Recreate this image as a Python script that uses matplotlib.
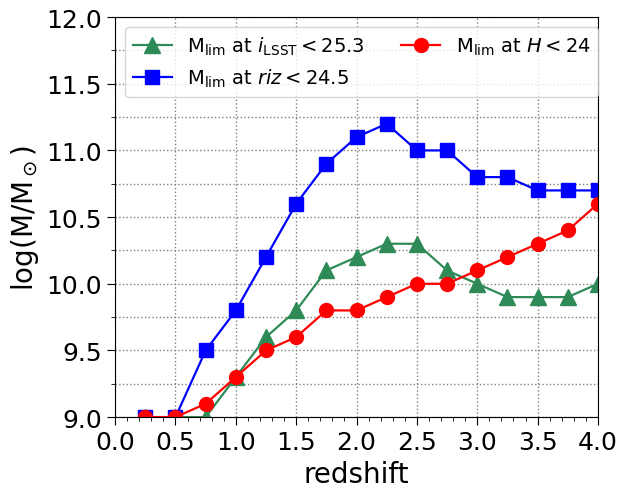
import matplotlib
matplotlib.use("Agg")
import matplotlib.pyplot as plt
from matplotlib.ticker import MultipleLocator

redshift = [0.25, 0.5, 0.75, 1.0, 1.25, 1.5, 1.75, 2.0, 2.25, 2.5, 2.75, 3.0, 3.25, 3.5, 3.75, 4.0]
mlim_ilsst = [9.0, 9.0, 9.0, 9.3, 9.6, 9.8, 10.1, 10.2, 10.3, 10.3, 10.1, 10.0, 9.9, 9.9, 9.9, 10.0]
mlim_riz = [9.0, 9.0, 9.5, 9.8, 10.2, 10.6, 10.9, 11.1, 11.2, 11.0, 11.0, 10.8, 10.8, 10.7, 10.7, 10.7]
mlim_h = [9.0, 9.0, 9.1, 9.3, 9.5, 9.6, 9.8, 9.8, 9.9, 10.0, 10.0, 10.1, 10.2, 10.3, 10.4, 10.6]

fig = plt.figure(figsize=(6.19, 4.89), dpi=100)
ax = fig.add_axes([0.186, 0.145, 0.780, 0.818])

ax.plot(redshift, mlim_ilsst, marker="^", color="seagreen", ms=11, lw=1.6,
        label=r"M$_{\rm lim}$ at $i_{\rm LSST}<25.3$")
ax.plot(redshift, mlim_riz, marker="s", color="blue", ms=10, lw=1.6,
        label=r"M$_{\rm lim}$ at $riz<24.5$")
ax.plot(redshift, mlim_h, marker="o", color="red", ms=10, lw=1.6,
        label=r"M$_{\rm lim}$ at $H<24$")

ax.set_xlim(0, 4.0)
ax.set_ylim(9.0, 12.0)
ax.xaxis.set_major_locator(MultipleLocator(0.5))
ax.xaxis.set_minor_locator(MultipleLocator(0.1))
ax.yaxis.set_major_locator(MultipleLocator(0.5))
ax.yaxis.set_minor_locator(MultipleLocator(0.25))
ax.tick_params(axis="both", which="major", labelsize=18, length=6)
ax.tick_params(axis="both", which="minor", length=3)
ax.grid(True, axis="x", which="major", linestyle=":", color="gray", lw=1)
ax.grid(True, axis="y", which="both", linestyle=":", color="gray", lw=1)

ax.set_xlabel("redshift", fontsize=20)
ax.set_ylabel(r"log(M/M$_\odot$)", fontsize=20)
ax.legend(ncol=2, fontsize=14, loc="upper left", bbox_to_anchor=(0.0, 1.0),
          handlelength=2.0, columnspacing=1.9, borderaxespad=0.5)

fig.savefig("out.png", dpi=100)
